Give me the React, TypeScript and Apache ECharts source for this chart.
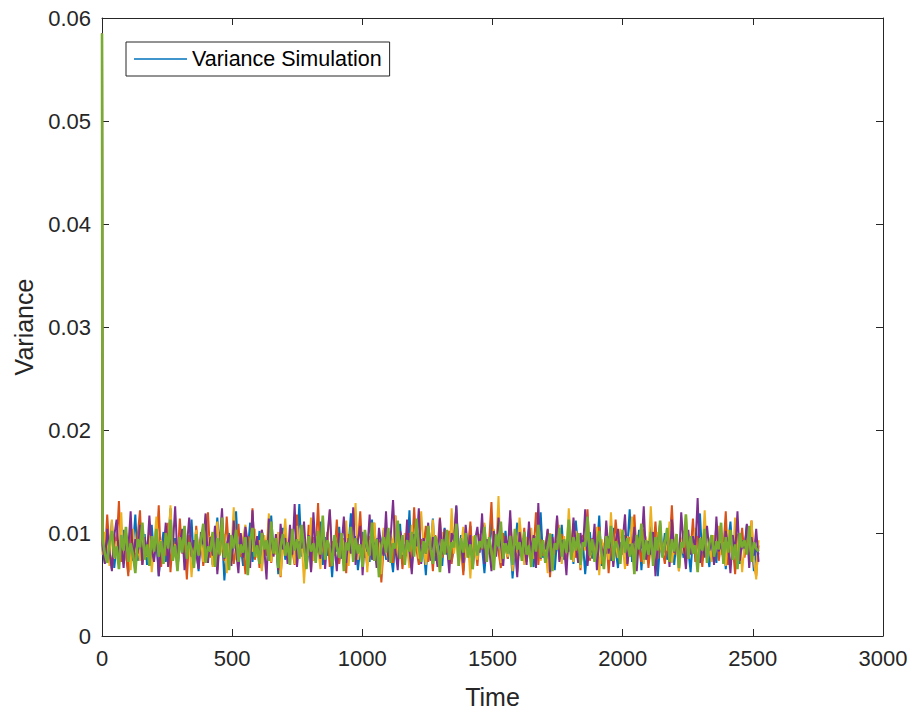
import React, { useEffect, useRef } from "react";
import * as echarts from "echarts";

// Variance values are written in units of 1e-4 (e.g. 92 -> 0.0092)
const UNIT = 1e-4;
const INITIAL_VARIANCE = 0.0585; // value at Time = 0 for every run
const FIRST_TIME = 2;
const TIME_STEP = 9;

const SERIES_NAMES = ["Variance Simulation", "Run 2", "Run 3", "Run 4", "Run 5"];
const SERIES_COLORS = ["#0072BD", "#D95319", "#EDB120", "#7E2F8E", "#77AC30"];
const SERIES_WIDTHS = [2, 2, 2, 2, 2.6];

const RUN_1 = [
  84, 71, 97, 79, 112, 66, 88, 93, 74, 103, 81, 62, 95, 86, 118, 73, 90, 77, 99, 69,
  85, 108, 76, 92, 58, 83, 101, 72, 89, 124, 78, 95, 67, 86, 104, 74, 91, 80, 113, 70,
  88, 63, 96, 82, 107, 75, 93, 69, 86, 115, 79, 98, 54, 84, 100, 73, 90, 121, 77, 87,
  68, 95, 83, 110, 72, 89, 79, 102, 65, 92, 85, 76, 117, 81, 94, 60, 87, 105, 74, 91,
  80, 99, 71, 86, 128, 77, 93, 66, 84, 104, 73, 90, 81, 111, 69, 96, 78, 88, 57, 94,
  82, 106, 75, 92, 68, 87, 119, 79, 97, 64, 85, 101, 76, 89, 72, 113, 83, 95, 70, 86,
  103, 74, 91, 80, 62, 97, 84, 109, 71, 88, 78, 122, 67, 93, 83, 100, 75, 87, 59, 96,
  81, 114, 73, 90, 85, 68, 105, 79, 94, 72, 87, 126, 76, 98, 63, 89, 82, 107, 70, 92,
  77, 99, 86, 61, 93, 80, 116, 74, 88, 96, 69, 84, 102, 75, 91, 56, 85, 110, 78, 95,
  72, 89, 104, 81, 67, 97, 83, 120, 76, 90, 71, 86, 99, 64, 93, 79, 108, 74, 88, 82,
  95, 70, 112, 85, 78, 92, 60, 87, 101, 75, 94, 83, 117, 68, 89, 80, 97, 73, 105, 84,
  66, 91, 79, 98, 86, 123, 72, 88, 77, 103, 64, 93, 85, 71, 109, 82, 96, 58, 90, 78,
  100, 74, 87, 115, 69, 94, 81, 90, 76, 106, 84, 62, 97, 79, 88, 119, 73, 92, 83, 67,
  98, 85, 71, 104, 80, 93, 65, 89, 111, 77, 86, 96, 70, 91, 82, 108, 75, 94, 63, 87,
  79,
];
const RUN_2 = [
  90, 76, 118, 83, 65, 99, 87, 131, 72, 94, 80, 58, 106, 85, 74, 97, 122, 69, 88, 81,
  102, 71, 93, 84, 127, 67, 89, 78, 110, 62, 95, 86, 73, 114, 80, 91, 55, 98, 83, 75,
  107, 79, 92, 68, 88, 120, 76, 96, 84, 64, 101, 89, 73, 116, 82, 94, 70, 87, 109, 77,
  85, 60, 97, 81, 124, 74, 90, 66, 103, 87, 78, 112, 71, 93, 82, 99, 57, 88, 105, 76,
  94, 83, 69, 118, 79, 91, 86, 72, 108, 63, 96, 84, 129, 75, 89, 80, 101, 67, 92, 78,
  113, 70, 87, 95, 61, 99, 82, 106, 74, 90, 121, 77, 85, 68, 97, 88, 110, 73, 93, 52,
  86, 104, 79, 92, 71, 117, 83, 96, 65, 89, 80, 100, 75, 125, 84, 69, 94, 87, 107, 72,
  91, 63, 98, 85, 115, 76, 88, 81, 102, 70, 93, 119, 78, 86, 59, 97, 83, 111, 74, 90,
  68, 96, 84, 108, 77, 92, 130, 73, 89, 82, 66, 100, 87, 75, 114, 80, 95, 62, 91, 79,
  105, 72, 88, 97, 83, 120, 69, 94, 78, 86, 103, 57, 92, 81, 116, 74, 99, 85, 71, 93,
  82, 109, 76, 90, 64, 98, 86, 123, 73, 95, 80, 88, 106, 70, 84, 97, 61, 91, 79, 113,
  87, 74, 101, 83, 68, 96, 90, 118, 77, 85, 72, 104, 93, 66, 89, 80, 111, 75, 98, 84,
  70, 92, 86, 127, 79, 94, 63, 88, 102, 76, 91, 83, 114, 72, 97, 85, 67, 100, 81, 89,
  96, 78, 108, 73, 90, 84, 121, 69, 93, 87, 60, 99, 82, 105, 76, 94, 86, 112, 71, 58,
  88,
];
const RUN_3 = [
  79, 101, 86, 68, 113, 75, 92, 83, 120, 70, 88, 96, 64, 104, 81, 90, 73, 109, 85, 77,
  98, 62, 87, 116, 79, 93, 71, 100, 84, 127, 74, 89, 66, 95, 82, 106, 76, 91, 57, 88,
  103, 80, 94, 72, 118, 85, 97, 67, 90, 111, 78, 86, 99, 61, 92, 83, 125, 74, 89, 80,
  96, 108, 69, 87, 82, 104, 76, 93, 63, 98, 85, 119, 72, 90, 79, 101, 58, 88, 114, 77,
  84, 95, 70, 107, 81, 92, 51, 89, 78, 115, 73, 97, 86, 65, 103, 80, 94, 122, 71, 87,
  90, 76, 99, 83, 112, 68, 95, 86, 129, 74, 88, 80, 102, 62, 93, 84, 110, 77, 91, 60,
  105, 82, 73, 97, 88, 117, 70, 92, 79, 100, 85, 66, 108, 81, 94, 75, 121, 87, 69, 96,
  83, 113, 78, 89, 64, 101, 86, 93, 72, 124, 80, 95, 68, 88, 106, 76, 91, 56, 97, 84,
  74, 99, 87, 110, 79, 92, 67, 104, 83, 136, 71, 90, 85, 77, 98, 63, 94, 81, 115, 88,
  69, 96, 82, 105, 75, 89, 119, 73, 93, 86, 61, 100, 78, 91, 84, 108, 70, 97, 80, 124,
  87, 72, 102, 91, 66, 95, 83, 113, 76, 88, 79, 106, 59, 94, 85, 99, 74, 120, 82, 90,
  76, 104, 88, 65, 97, 81, 116, 73, 92, 86, 109, 70, 95, 79, 126, 84, 68, 101, 89, 77,
  93, 83, 111, 71, 87, 99, 63, 94, 80, 118, 75, 90, 86, 105, 67, 96, 82, 122, 78, 89,
  72, 98, 85, 107, 79, 91, 68, 103, 87, 76, 115, 83, 94, 62, 89, 101, 80, 112, 74, 55,
  93,
];
const RUN_4 = [
  88, 70, 104, 82, 63, 97, 113, 76, 91, 66, 100, 85, 121, 73, 94, 80, 108, 69, 96, 78,
  117, 84, 72, 99, 58, 92, 81, 110, 67, 95, 86, 126, 74, 90, 103, 64, 87, 115, 77, 93,
  80, 65, 101, 89, 119, 71, 96, 78, 107, 60, 92, 124, 75, 88, 98, 68, 112, 83, 61, 100,
  76, 106, 90, 66, 122, 81, 97, 72, 103, 86, 55, 114, 93, 77, 99, 64, 109, 84, 95, 70,
  108, 79, 128, 67, 92, 85, 111, 73, 98, 62, 120, 82, 91, 75, 104, 65, 97, 123, 78, 89,
  63, 100, 86, 116, 71, 95, 80, 125, 69, 93, 107, 59, 98, 82, 118, 74, 90, 66, 105, 87,
  78, 121, 72, 97, 132, 84, 64, 102, 91, 75, 113, 83, 60, 99, 87, 124, 70, 95, 80, 110,
  73, 96, 85, 67, 114, 79, 104, 88, 61, 100, 92, 127, 76, 89, 71, 108, 84, 98, 65, 93,
  106, 81, 119, 70, 94, 86, 63, 102, 77, 115, 90, 68, 97, 83, 122, 74, 88, 57, 101, 85,
  92, 69, 111, 80, 98, 66, 129, 75, 90, 84, 104, 62, 96, 79, 117, 72, 93, 87, 59, 103,
  77, 115, 88, 71, 100, 83, 123, 68, 94, 81, 109, 64, 97, 86, 73, 112, 80, 99, 67, 91,
  104, 76, 93, 118, 70, 89, 82, 106, 63, 96, 85, 126, 74, 92, 79, 101, 58, 90, 110, 78,
  86, 99, 67, 113, 81, 94, 72, 120, 88, 65, 103, 79, 97, 84, 134, 71, 92, 76, 107, 83,
  95, 69, 116, 82, 90, 74, 102, 87, 61, 98, 80, 121, 73, 93, 85, 109, 66, 96, 78, 104,
  72,
];
const RUN_5 = [
  95, 80, 71, 91, 102, 76, 87, 65, 98, 83, 106, 72, 90, 79, 61, 94, 86, 110, 74, 89,
  68, 97, 82, 104, 77, 92, 70, 100, 85, 113, 73, 88, 63, 96, 81, 107, 75, 91, 84, 66,
  99, 78, 93, 109, 71, 87, 82, 101, 67, 95, 79, 115, 76, 90, 64, 98, 85, 103, 72, 89,
  81, 96, 59, 92, 105, 77, 88, 70, 100, 84, 93, 73, 111, 80, 95, 66, 87, 99, 78, 91,
  69, 104, 83, 94, 75, 108, 86, 65, 97, 82, 90, 71, 102, 79, 117, 74, 93, 85, 68, 98,
  87, 76, 100, 63, 91, 83, 106, 72, 95, 80, 89, 67, 103, 85, 78, 110, 73, 94, 57, 88,
  96, 81, 105, 71, 90, 85, 112, 75, 98, 69, 93, 82, 101, 77, 114, 86, 72, 92, 80, 107,
  84, 70, 97, 88, 62, 94, 79, 103, 74, 91, 86, 109, 68, 95, 81, 100, 76, 89, 65, 98,
  78, 92, 85, 106, 72, 96, 83, 64, 99, 87, 111, 75, 90, 80, 97, 69, 104, 84, 91, 73,
  101, 79, 88, 67, 95, 82, 108, 76, 93, 71, 86, 99, 63, 90, 84, 105, 77, 94, 81, 113,
  74, 96, 83, 100, 69, 91, 87, 116, 78, 94, 72, 89, 102, 80, 65, 97, 85, 107, 73, 92,
  86, 70, 103, 81, 95, 77, 90, 60, 98, 84, 109, 74, 93, 79, 101, 68, 96, 83, 112, 76,
  89, 105, 72, 94, 82, 99, 66, 91, 86, 118, 75, 97, 80, 88, 62, 95, 83, 104, 71, 90,
  98, 77, 92, 84, 110, 70, 96, 81, 103, 74, 89, 65, 100, 86, 93, 79, 107, 72, 91, 85,
  82,
];
const RUNS = [RUN_1, RUN_2, RUN_3, RUN_4, RUN_5];

const X_TICKS = { min: 0, max: 3000, interval: 500 };
const Y_TICKS = { min: 0, max: 0.06, interval: 0.01 };

const AXIS_COLOR = "#262626";
const FONT = "Liberation Sans, Arial, Helvetica, sans-serif";

export default function App() {
  const ref = useRef<HTMLDivElement>(null);

  useEffect(() => {
    if (!ref.current) return;
    const chart = echarts.init(ref.current, undefined, { renderer: "svg" });

    const axisCommon = {
      type: "value" as const,
      axisLine: { show: true, onZero: false, lineStyle: { color: AXIS_COLOR, width: 1 } },
      axisTick: { show: true, inside: true, length: 7, lineStyle: { color: AXIS_COLOR, width: 1 } },
      splitLine: { show: false },
    };

    const series = RUNS.map((run, k) => ({
      name: SERIES_NAMES[k],
      type: "line" as const,
      xAxisIndex: 0,
      yAxisIndex: 0,
      symbol: "none",
      showSymbol: false,
      animation: false,
      lineStyle: { width: SERIES_WIDTHS[k], color: SERIES_COLORS[k] },
      itemStyle: { color: SERIES_COLORS[k] },
      data: [
        [0, INITIAL_VARIANCE],
        ...run.map((v, i) => [FIRST_TIME + i * TIME_STEP, v * UNIT]),
      ],
    }));

    chart.setOption({
      animation: false,
      textStyle: { fontFamily: FONT },
      grid: { left: 102, right: 31, top: 18, bottom: 79, containLabel: false },
      legend: {
        data: [SERIES_NAMES[0]],
        left: 126,
        top: 42,
        orient: "horizontal",
        selectedMode: false,
        icon: "rect",
        backgroundColor: "#ffffff",
        borderColor: AXIS_COLOR,
        borderWidth: 1,
        borderRadius: 0,
        padding: [6, 8, 6, 8],
        itemWidth: 53,
        itemHeight: 1.5,
        itemGap: 5,
        textStyle: { fontSize: 21.5, color: "#000000", fontFamily: FONT },
      },
      xAxis: [
        {
          ...axisCommon,
          ...X_TICKS,
          position: "bottom",
          name: "Time",
          nameLocation: "middle",
          nameGap: 48,
          nameTextStyle: { fontSize: 25, color: AXIS_COLOR, fontFamily: FONT },
          axisLabel: {
            fontSize: 22,
            color: AXIS_COLOR,
            margin: 11,
            fontFamily: FONT,
            formatter: (v: number) => String(v),
          },
        },
        {
          ...axisCommon,
          ...X_TICKS,
          position: "top",
          axisLabel: { show: false },
        },
      ],
      yAxis: [
        {
          ...axisCommon,
          ...Y_TICKS,
          position: "left",
          name: "Variance",
          nameLocation: "middle",
          nameGap: 66,
          nameRotate: 90,
          nameTextStyle: { fontSize: 25, color: AXIS_COLOR, fontFamily: FONT },
          axisLabel: {
            fontSize: 22,
            color: AXIS_COLOR,
            margin: 11,
            fontFamily: FONT,
            formatter: (v: number) => (v === 0 ? "0" : v.toFixed(2)),
          },
        },
        {
          ...axisCommon,
          ...Y_TICKS,
          position: "right",
          axisLabel: { show: false },
        },
      ],
      series,
    });

    return () => chart.dispose();
  }, []);

  return (
    <div
      ref={ref}
      style={{ position: "fixed", left: 0, top: 0, width: 914, height: 715, background: "#ffffff" }}
    />
  );
}
